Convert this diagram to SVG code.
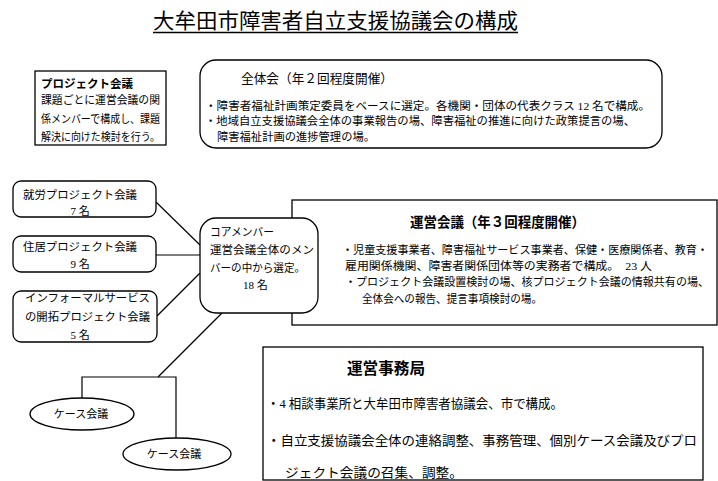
<svg xmlns="http://www.w3.org/2000/svg" width="718" height="481" viewBox="0 0 718 481">
<style>
text{font-family:"Liberation Serif","Noto Sans CJK JP",sans-serif;fill:#000;}
.t{font-size:11px;}
.b{font-size:11.3px;}
.h{font-weight:bold;font-family:"Liberation Sans","Noto Sans CJK JP",sans-serif;}
.box{fill:#fff;stroke:#000;stroke-width:1.3;}
.c{text-anchor:middle;}
.ln{stroke:#000;stroke-width:1.2;fill:none;}
</style>
<rect x="0" y="0" width="718" height="481" fill="#fff"/>
<g id="title">
<text x="153" y="28" font-size="21" textLength="365" lengthAdjust="spacingAndGlyphs">大牟田市障害者自立支援協議会の構成</text>
<line x1="153" y1="32.5" x2="518" y2="32.5" stroke="#000" stroke-width="1.3"/>
</g>
<g id="project-kaigi">
<rect class="box" x="35" y="71" width="131" height="74"/>
<text class="h" x="41" y="87.5" font-size="11.5" textLength="92" lengthAdjust="spacingAndGlyphs">プロジェクト会議</text>
<text class="t" x="41" y="104" textLength="119" lengthAdjust="spacingAndGlyphs">課題ごとに運営会議の関</text>
<text class="t" x="41" y="123" textLength="119" lengthAdjust="spacingAndGlyphs">係メンバーで構成し、課題</text>
<text class="t" x="41" y="141" textLength="119" lengthAdjust="spacingAndGlyphs">解決に向けた検討を行う。</text>
</g>
<g id="zentaikai">
<rect class="box" x="200" y="60" width="462" height="88" rx="16"/>
<text x="241" y="83" font-size="13" textLength="152" lengthAdjust="spacingAndGlyphs">全体会（年２回程度開催）</text>
<text class="b" x="205" y="109.5" textLength="445" lengthAdjust="spacingAndGlyphs">・障害者福祉計画策定委員をベースに選定。各機関・団体の代表クラス 12 名で構成。</text>
<text class="b" x="205" y="125" textLength="430" lengthAdjust="spacingAndGlyphs">・地域自立支援協議会全体の事業報告の場、障害福祉の推進に向けた政策提言の場、</text>
<text class="b" x="217" y="140.5" textLength="158" lengthAdjust="spacingAndGlyphs">障害福祉計画の進捗管理の場。</text>
</g>
<g id="connectors">
<line class="ln" x1="156" y1="202" x2="200" y2="245"/>
<line class="ln" x1="156" y1="255" x2="200" y2="255"/>
<line class="ln" x1="157" y1="316" x2="200" y2="273"/>
<line class="ln" x1="222" y1="313" x2="158" y2="377"/>
<polyline class="ln" points="82,398 82,377 176,377 176,438"/>
</g>
<g id="shuro">
<rect class="box" x="13" y="181" width="143" height="36" rx="8"/>
<text class="t" x="23" y="199" textLength="114" lengthAdjust="spacingAndGlyphs">就労プロジェクト会議</text>
<text class="t c" x="80" y="215">7 名</text>
</g>
<g id="jukyo">
<rect class="box" x="13" y="236" width="143" height="36" rx="8"/>
<text class="t" x="23" y="251" textLength="114" lengthAdjust="spacingAndGlyphs">住居プロジェクト会議</text>
<text class="t c" x="80" y="268">9 名</text>
</g>
<g id="informal">
<rect class="box" x="13" y="291" width="144" height="51" rx="8"/>
<text class="t" x="25" y="302" textLength="125" lengthAdjust="spacingAndGlyphs">インフォーマルサービス</text>
<text class="t" x="25" y="321" textLength="125" lengthAdjust="spacingAndGlyphs">の開拓プロジェクト会議</text>
<text class="t c" x="80" y="339">5 名</text>
</g>
<g id="uneikaigi">
<rect class="box" x="292" y="200" width="425" height="125"/>
<text class="h" x="410" y="227" font-size="14" textLength="175" lengthAdjust="spacingAndGlyphs">運営会議（年３回程度開催）</text>
<text class="b" x="342" y="254" textLength="366" lengthAdjust="spacingAndGlyphs">・児童支援事業者、障害福祉サービス事業者、保健・医療関係者、教育・</text>
<text class="b" x="345" y="270" textLength="307" lengthAdjust="spacingAndGlyphs">雇用関係機関、障害者関係団体等の実務者で構成。　23 人</text>
<text class="b" x="345" y="286" textLength="364" lengthAdjust="spacingAndGlyphs">・プロジェクト会議設置検討の場、核プロジェクト会議の情報共有の場、</text>
<text class="b" x="362" y="303" textLength="180" lengthAdjust="spacingAndGlyphs">全体会への報告、提言事項検討の場。</text>
</g>
<g id="core">
<rect class="box" x="200" y="218" width="118" height="95" rx="16"/>
<text class="t" x="210" y="236" textLength="64" lengthAdjust="spacingAndGlyphs">コアメンバー</text>
<text class="t" x="210" y="254" textLength="104" lengthAdjust="spacingAndGlyphs">運営会議全体のメン</text>
<text class="t" x="210" y="272" textLength="95" lengthAdjust="spacingAndGlyphs">バーの中から選定。</text>
<text class="t" x="243" y="289">18 名</text>
</g>
<g id="case1">
<ellipse class="box" cx="82" cy="414" rx="52" ry="16"/>
<text class="t c" x="81" y="418">ケース会議</text>
</g>
<g id="case2">
<ellipse class="box" cx="177" cy="454" rx="54" ry="16"/>
<text class="t c" x="174" y="458">ケース会議</text>
</g>
<g id="jimukyoku">
<rect class="box" x="263" y="347" width="440" height="133"/>
<text class="h" x="347" y="374" font-size="15.5" textLength="78" lengthAdjust="spacingAndGlyphs">運営事務局</text>
<text x="267" y="408" font-size="13" textLength="296" lengthAdjust="spacingAndGlyphs">・4 相談事業所と大牟田市障害者協議会、市で構成。</text>
<text x="267" y="445" font-size="13" textLength="430" lengthAdjust="spacingAndGlyphs">・自立支援協議会全体の連絡調整、事務管理、個別ケース会議及びプロ</text>
<text x="285" y="477" font-size="13" textLength="178" lengthAdjust="spacingAndGlyphs">ジェクト会議の召集、調整。</text>
</g>
</svg>
